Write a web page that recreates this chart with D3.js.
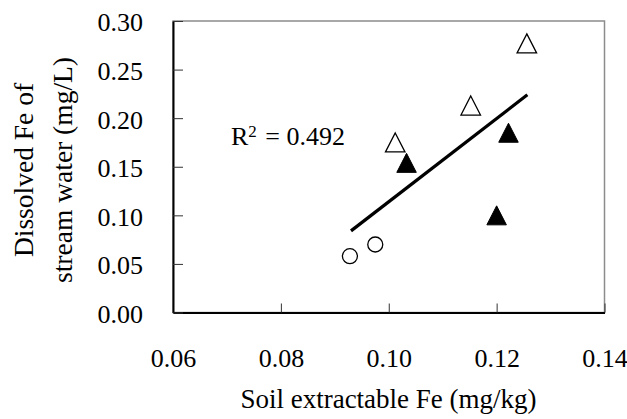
<!DOCTYPE html>
<html>
<head>
<meta charset="utf-8">
<script src="https://cdn.jsdelivr.net/npm/d3@7"></script>
<style>
  body { margin: 0; background: #fff; }
  svg text { font-family: "Liberation Serif", "Times New Roman", serif; fill: #000; }
</style>
</head>
<body>
<div id="chart"></div>
<script>
// series
const circleX = [0.0928, 0.0975];
const circleY = [0.058, 0.070];
const openTriX = [0.1012, 0.1152, 0.1256];
const openTriY = [0.175, 0.213, 0.277];
const fillTriX = [0.1033, 0.1222, 0.1200];
const fillTriY = [0.154, 0.185, 0.100];
const trendX = [0.0930, 0.1257];
const trendY = [0.084, 0.224];
const xTicks = [0.06, 0.08, 0.10, 0.12, 0.14];
const yTicks = [0, 0.05, 0.10, 0.15, 0.20, 0.25, 0.30];

const SERIF = "'Liberation Serif', 'Times New Roman', serif";

const draw = () => {
  const width = 627, height = 419;
  const left = 173, right = 604.5, top = 21, bottom = 312.5;

  const x = d3.scaleLinear().domain([0.06, 0.14]).range([left, right]);
  const y = d3.scaleLinear().domain([0, 0.30]).range([bottom, top]);

  const svg = d3.select("#chart").append("svg")
      .attr("width", width)
      .attr("height", height)
      .attr("font-family", SERIF);

  // plot frame (grey top/right)
  svg.append("rect")
      .attr("x", left).attr("y", top)
      .attr("width", right - left).attr("height", bottom - top)
      .attr("fill", "none").attr("stroke", "#8c8c8c").attr("stroke-width", 1.5);

  const xAxis = svg.append("g")
      .attr("transform", `translate(0,${bottom})`)
      .call(d3.axisBottom(x).tickValues(xTicks).tickSize(-9).tickSizeOuter(0).tickFormat(d3.format(".2f")))
      .attr("font-family", SERIF).attr("font-size", 26);
  xAxis.select(".domain").attr("stroke", "#000").attr("stroke-width", 2);
  xAxis.selectAll(".tick line").attr("stroke", "#333").attr("stroke-width", 1);
  xAxis.selectAll(".tick text").attr("y", 54).attr("dy", 0).attr("fill", "#000");

  const yAxis = svg.append("g")
      .attr("transform", `translate(${left},0)`)
      .call(d3.axisLeft(y).tickValues(yTicks).tickSize(-10).tickSizeOuter(0).tickFormat(d3.format(".2f")))
      .attr("font-family", SERIF).attr("font-size", 26);
  yAxis.select(".domain").attr("stroke", "#000").attr("stroke-width", 2);
  yAxis.selectAll(".tick line").attr("stroke", "#333").attr("stroke-width", 1);
  yAxis.selectAll(".tick text").attr("x", -30).attr("dy", "0.38em").attr("fill", "#000");

  // trend line
  svg.append("path")
      .datum(d3.zip(trendX, trendY))
      .attr("d", d3.line().x(d => x(d[0])).y(d => y(d[1])))
      .attr("stroke", "#000").attr("stroke-width", 3.2).attr("fill", "none");

  // markers
  svg.selectAll(".circ").data(d3.zip(circleX, circleY)).enter()
    .append("circle")
      .attr("cx", d => x(d[0])).attr("cy", d => y(d[1])).attr("r", 7.5)
      .attr("fill", "#fff").attr("stroke", "#000").attr("stroke-width", 1.3);

  const tri = (d) => {
    const cx = x(d[0]), cy = y(d[1]), w = 19.5, h = 19;
    return `M${cx},${cy - h / 2}L${cx + w / 2},${cy + h / 2}L${cx - w / 2},${cy + h / 2}Z`;
  };

  svg.selectAll(".otri").data(d3.zip(openTriX, openTriY)).enter()
    .append("path")
      .attr("d", tri)
      .attr("fill", "#fff").attr("stroke", "#000").attr("stroke-width", 1.3);

  svg.selectAll(".ftri").data(d3.zip(fillTriX, fillTriY)).enter()
    .append("path")
      .attr("d", tri)
      .attr("fill", "#000").attr("stroke", "#000").attr("stroke-width", 1);

  // R^2 label
  const r2 = svg.append("text").attr("x", 231).attr("y", 145).attr("font-size", 26);
  r2.append("tspan").text("R");
  r2.append("tspan").attr("dy", -8).attr("font-size", 17).text("2");
  r2.append("tspan").attr("dy", 8).attr("dx", 2).text(" = 0.492");

  // axis titles
  svg.append("text")
      .attr("x", 388.5).attr("y", 408)
      .attr("text-anchor", "middle").attr("font-size", 27)
      .text("Soil extractable Fe (mg/kg)");

  const yt = svg.append("text")
      .attr("transform", "translate(0,170) rotate(-90)")
      .attr("text-anchor", "middle").attr("font-size", 27.5);
  yt.append("tspan").attr("x", 0).attr("y", 33).text("Dissolved Fe of");
  yt.append("tspan").attr("x", 0).attr("y", 72).text("stream water (mg/L)");
};

window.onload = draw;
</script>
</body>
</html>
